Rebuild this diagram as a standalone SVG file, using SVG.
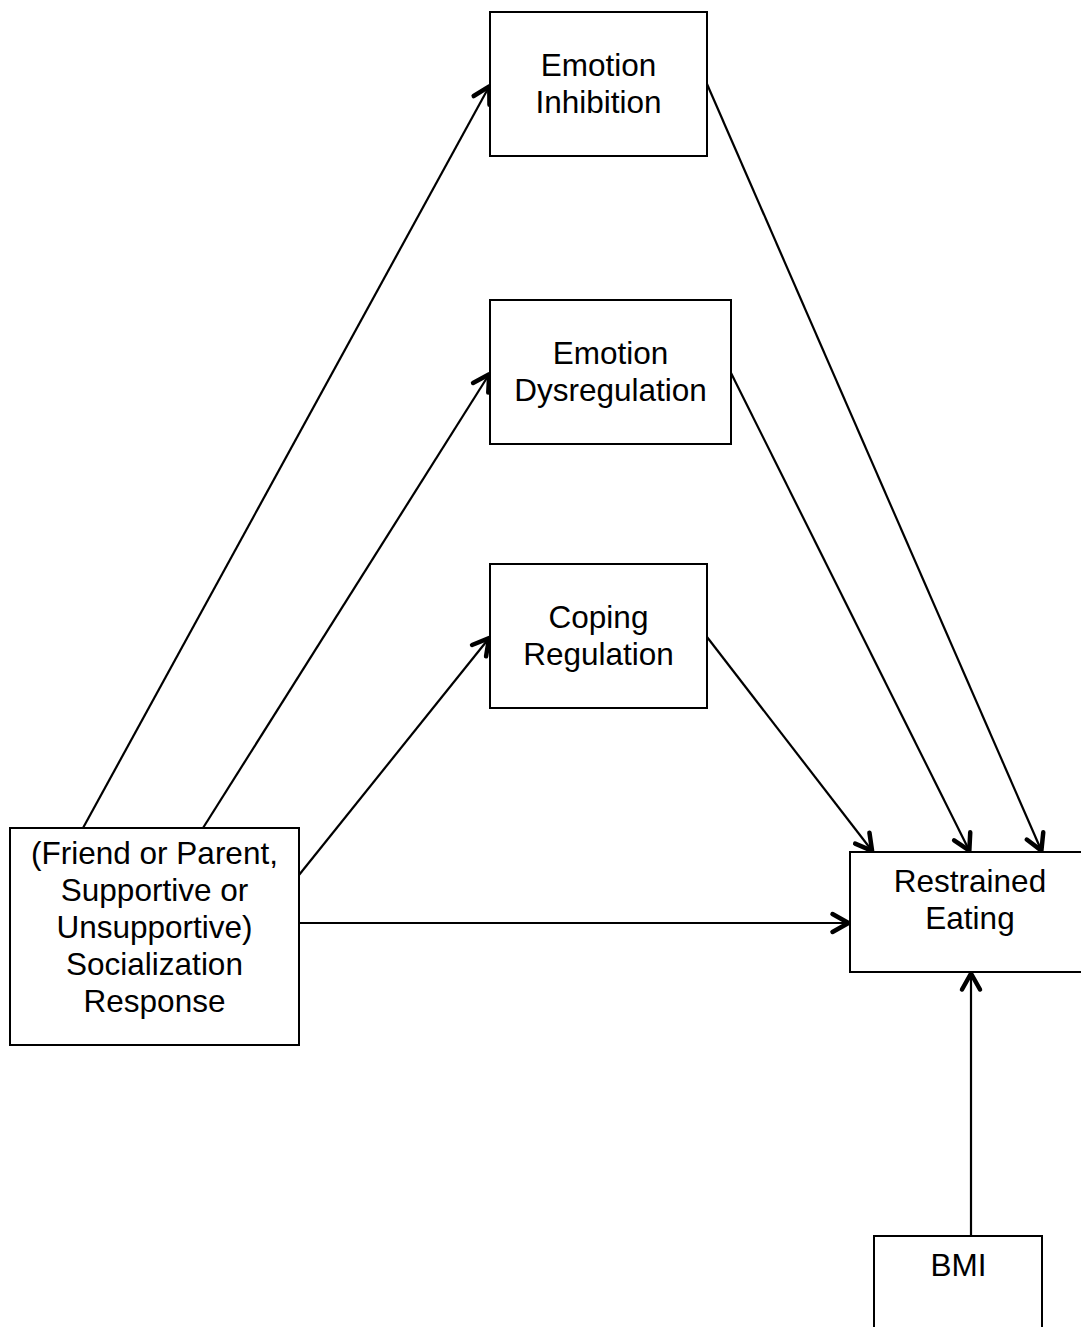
<svg xmlns="http://www.w3.org/2000/svg" width="1081" height="1327" viewBox="0 0 1081 1327">
<style>
.box{fill:#fff;stroke:#000;stroke-width:2}
.t{font-family:"Liberation Sans",Arial,sans-serif;font-size:31.5px;fill:#000;text-anchor:middle}
.c{stroke:#000;stroke-width:2.2;fill:none}
</style>
<defs>
<marker id="ah" markerUnits="userSpaceOnUse" markerWidth="40" markerHeight="40" viewBox="-20 -20 40 40" refX="1.5" refY="0" orient="auto" overflow="visible">
<path d="M -16 -9 L 0 0 L -16 9" fill="none" stroke="#000" stroke-width="4.5" stroke-linecap="round" stroke-linejoin="round"/>
</marker>
</defs>
<rect width="1081" height="1327" fill="#fff"/>
<g id="connectors">
<line class="c" x1="83" y1="828" x2="490" y2="85" marker-end="url(#ah)"/>
<line class="c" x1="203" y1="828" x2="490" y2="373" marker-end="url(#ah)"/>
<line class="c" x1="299" y1="875" x2="490" y2="637" marker-end="url(#ah)"/>
<line class="c" x1="299" y1="923" x2="850" y2="923" marker-end="url(#ah)"/>
<line class="c" x1="707" y1="84" x2="1042" y2="852" marker-end="url(#ah)"/>
<line class="c" x1="731" y1="373" x2="970" y2="852" marker-end="url(#ah)"/>
<line class="c" x1="707" y1="637" x2="873" y2="852" marker-end="url(#ah)"/>
<line class="c" x1="971" y1="1236" x2="971" y2="972" marker-end="url(#ah)"/>
</g>
<g id="emotion-inhibition">
<rect class="box" x="490" y="12" width="217" height="144"/>
<text class="t" x="598.5" y="76">Emotion</text>
<text class="t" x="598.5" y="113">Inhibition</text>
</g>
<g id="emotion-dysregulation">
<rect class="box" x="490" y="300" width="241" height="144"/>
<text class="t" x="610.5" y="364">Emotion</text>
<text class="t" x="610.5" y="401">Dysregulation</text>
</g>
<g id="coping-regulation">
<rect class="box" x="490" y="564" width="217" height="144"/>
<text class="t" x="598.5" y="628">Coping</text>
<text class="t" x="598.5" y="665">Regulation</text>
</g>
<g id="socialization-response">
<rect class="box" x="10" y="828" width="289" height="217"/>
<text class="t" x="154.5" y="864">(Friend or Parent,</text>
<text class="t" x="154.5" y="901">Supportive or</text>
<text class="t" x="154.5" y="938">Unsupportive)</text>
<text class="t" x="154.5" y="975">Socialization</text>
<text class="t" x="154.5" y="1012">Response</text>
</g>
<g id="restrained-eating">
<rect class="box" x="850" y="852" width="240" height="120"/>
<text class="t" x="970" y="892">Restrained</text>
<text class="t" x="970" y="929">Eating</text>
</g>
<g id="bmi">
<rect class="box" x="874" y="1236" width="168" height="110"/>
<text class="t" x="958.5" y="1276">BMI</text>
</g>
</svg>
